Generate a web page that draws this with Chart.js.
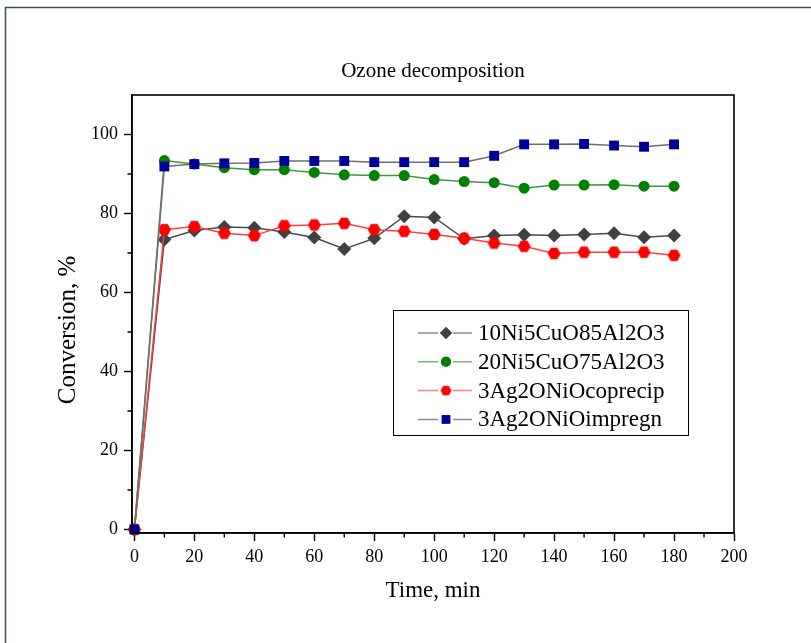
<!DOCTYPE html>
<html>
<head>
<meta charset="utf-8">
<script src="https://cdn.jsdelivr.net/npm/chart.js@4"></script>
<style>
  html, body { margin: 0; padding: 0; background: #fff; }
  #wrap { width: 811px; height: 643px; }
</style>
</head>
<body>
<div id="wrap"><canvas id="chart" width="811" height="643"></canvas></div>
<script>
// Time axis (min)
const times = [0, 10, 20, 30, 40, 50, 60, 70, 80, 90, 100, 110, 120, 130, 140, 150, 160, 170, 180];

// Conversion, % for each catalyst
const ni10Cu5 = [0, 73.4, 75.7, 76.6, 76.4, 75.3, 73.9, 71.0, 73.7, 79.3, 79.0, 73.6, 74.4, 74.6, 74.4, 74.7, 75.0, 74.0, 74.4];
const ni20Cu5 = [0, 93.4, 92.5, 91.6, 91.1, 91.1, 90.4, 89.8, 89.6, 89.6, 88.6, 88.1, 87.8, 86.4, 87.2, 87.2, 87.3, 86.9, 86.9];
const agCoprecip = [0, 75.9, 76.7, 75.0, 74.4, 76.9, 77.1, 77.5, 75.9, 75.5, 74.7, 73.7, 72.5, 71.7, 69.9, 70.2, 70.2, 70.2, 69.4];
const agImpregn = [0, 91.9, 92.5, 92.7, 92.8, 93.3, 93.3, 93.3, 93.0, 93.0, 93.0, 93.0, 94.6, 97.5, 97.5, 97.6, 97.2, 96.9, 97.5];

const seriesNames = ['10Ni5CuO85Al2O3', '20Ni5CuO75Al2O3', '3Ag2ONiOcoprecip', '3Ag2ONiOimpregn'];

// Tick values
const xTicks = [0, 10, 20, 30, 40, 50, 60, 70, 80, 90, 100, 110, 120, 130, 140, 150, 160, 170, 180, 190, 200];
const yTicks = [0, 10, 20, 30, 40, 50, 60, 70, 80, 90, 100];

const serif = '"Liberation Serif", "Times New Roman", serif';

// hexagon marker for the coprecip series
function makeHexagon(color, r) {
    const c = document.createElement('canvas');
    const s = Math.ceil(r * 2 + 2);
    c.width = s; c.height = s;
    const g = c.getContext('2d');
    g.fillStyle = color;
    g.beginPath();
    for (let i = 0; i < 6; i++) {
        const a = Math.PI / 3 * i;
        const px = s / 2 + r * Math.cos(a);
        const py = s / 2 + r * Math.sin(a);
        if (i === 0) g.moveTo(px, py); else g.lineTo(px, py);
    }
    g.closePath();
    g.fill();
    return c;
}
const hexRed = makeHexagon('#ff0000', 6.5);

function pts(values) {
    return times.map((t, i) => ({ x: t, y: values[i] }));
}

const datasets = [
    {
        label: seriesNames[0], data: pts(ni10Cu5),
        borderColor: '#4a4a4a', borderWidth: 1.5,
        pointStyle: 'rectRot', pointRadius: 7, pointBackgroundColor: '#404040', pointBorderWidth: 0,
        legendLine: '#8c8c8c', order: 4
    },
    {
        label: seriesNames[1], data: pts(ni20Cu5),
        borderColor: '#3c9a3c', borderWidth: 1.5,
        pointStyle: 'circle', pointRadius: 5.5, pointBackgroundColor: '#008000', pointBorderWidth: 0,
        legendLine: '#6cbf6c', order: 3
    },
    {
        label: seriesNames[2], data: pts(agCoprecip),
        borderColor: '#ff4040', borderWidth: 1.5,
        pointStyle: hexRed, pointRadius: 6, pointBackgroundColor: '#ff0000', pointBorderWidth: 0,
        legendLine: '#ff8080', order: 2
    },
    {
        label: seriesNames[3], data: pts(agImpregn),
        borderColor: '#6e6e6e', borderWidth: 1.5,
        pointStyle: 'rect', pointRadius: 7, pointBackgroundColor: '#000099', pointBorderWidth: 0,
        legendLine: '#8c8c8c', order: 1
    }
];
datasets.forEach(d => { d.clip = false; d.tension = 0; d.fill = false; });

// page frame, plot box, minor ticks, title, y title and legend
const decorations = {
    id: 'decorations',
    beforeDraw(chart) {
        const ctx = chart.ctx;
        ctx.save();
        ctx.fillStyle = '#fff';
        ctx.fillRect(0, 0, chart.width, chart.height);
        ctx.strokeStyle = '#3d4f60';
        ctx.lineWidth = 1.5;
        ctx.strokeRect(5.5, 7.5, chart.width + 10, chart.height + 10);
        ctx.restore();
    },
    afterDatasetsDraw(chart) {
        const ctx = chart.ctx;
        const ca = chart.chartArea;
        const xs = chart.scales.x, ys = chart.scales.y;
        ctx.save();
        ctx.strokeStyle = '#000';
        ctx.lineWidth = 1.6;
        ctx.strokeRect(ca.left, ca.top, ca.right - ca.left, ca.bottom - ca.top);

        // minor ticks
        ctx.lineWidth = 1.4;
        ctx.beginPath();
        xTicks.filter(v => v % 20 !== 0).forEach(v => {
            const px = xs.getPixelForValue(v);
            ctx.moveTo(px, ca.bottom); ctx.lineTo(px, ca.bottom + 4.5);
        });
        yTicks.filter(v => v % 20 !== 0).forEach(v => {
            const py = ys.getPixelForValue(v);
            ctx.moveTo(ca.left, py); ctx.lineTo(ca.left - 4.5, py);
        });
        ctx.stroke();

        // title
        ctx.fillStyle = '#000';
        ctx.font = '21px ' + serif;
        ctx.textAlign = 'center';
        ctx.textBaseline = 'middle';
        ctx.fillText('Ozone decomposition', (ca.left + ca.right) / 2, 71);

        // y axis title
        ctx.save();
        ctx.translate(68, 330);
        ctx.rotate(-Math.PI / 2);
        ctx.font = '25px ' + serif;
        ctx.fillText('Conversion, %', 0, 0);
        ctx.restore();

        // legend
        const lx = 393, ly = 310, lw = 295, lh = 125;
        ctx.fillStyle = '#fff';
        ctx.fillRect(lx, ly, lw, lh);
        ctx.strokeStyle = '#000';
        ctx.lineWidth = 1;
        ctx.strokeRect(lx + 0.5, ly + 0.5, lw, lh);
        chart.data.datasets.forEach((d, i) => {
            const yy = ly + 23 + i * 28.8;
            ctx.strokeStyle = d.legendLine;
            ctx.lineWidth = 1.5;
            ctx.beginPath();
            ctx.moveTo(418, yy); ctx.lineTo(438, yy);
            ctx.moveTo(453, yy); ctx.lineTo(472, yy);
            ctx.stroke();
            const style = d.pointStyle === hexRed ? makeHexagon('#ff0000', 5.5) : d.pointStyle;
            ctx.fillStyle = d.pointBackgroundColor;
            Chart.helpers.drawPoint(ctx, {
                pointStyle: style, radius: d.pointStyle === 'circle' ? 5 : 6,
                rotation: 0, borderWidth: 0
            }, 446, yy);
            ctx.fill();
            ctx.fillStyle = '#000';
            ctx.font = '23px ' + serif;
            ctx.textAlign = 'left';
            ctx.textBaseline = 'middle';
            ctx.fillText(d.label, 478, yy + 1);
        });
        ctx.restore();
    }
};

const ctx = document.getElementById('chart').getContext('2d');
new Chart(ctx, {
    type: 'line',
    data: { datasets: datasets },
    options: {
        responsive: false,
        animation: false,
        layout: { padding: { top: 95, right: 77, left: 0, bottom: 0 } },
        plugins: {
            legend: { display: false },
            tooltip: { enabled: false },
            title: { display: false }
        },
        scales: {
            x: {
                type: 'linear',
                min: -0.8,
                max: 200,
                afterBuildTicks: scale => { scale.ticks = xTicks.map(v => ({ value: v })); },
                afterFit: scale => { scale.height = 110; },
                border: { display: true, color: '#000', width: 1.6 },
                grid: {
                    drawOnChartArea: false,
                    tickLength: 8,
                    tickWidth: 1.4,
                    tickColor: c => (c.tick && c.tick.value % 20 === 0) ? '#000' : 'rgba(0,0,0,0)'
                },
                ticks: {
                    color: '#000',
                    font: { family: serif, size: 18 },
                    padding: 5,
                    maxRotation: 0,
                    autoSkip: false,
                    callback: v => (v % 20 === 0 ? String(v) : '')
                },
                title: {
                    display: true, text: 'Time, min', color: '#000',
                    font: { family: serif, size: 23 },
                    padding: { top: 0, bottom: 38 }
                }
            },
            y: {
                type: 'linear',
                min: -0.9,
                max: 110,
                afterBuildTicks: scale => { scale.ticks = yTicks.map(v => ({ value: v })); },
                afterFit: scale => { scale.width = 132; },
                border: { display: true, color: '#000', width: 1.6 },
                grid: {
                    drawOnChartArea: false,
                    tickLength: 8,
                    tickWidth: 1.4,
                    tickColor: c => (c.tick && c.tick.value % 20 === 0) ? '#000' : 'rgba(0,0,0,0)'
                },
                ticks: {
                    color: '#000',
                    font: { family: serif, size: 18 },
                    padding: 6,
                    autoSkip: false,
                    callback: v => (v % 20 === 0 ? String(v) : '')
                },
                title: { display: false }
            }
        }
    },
    plugins: [decorations]
});
</script>
</body>
</html>
